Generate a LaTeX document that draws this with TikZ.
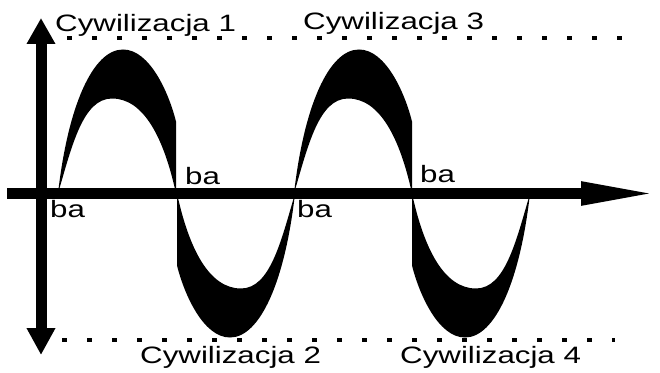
\documentclass[tikz,border=0pt]{standalone}
\usepackage{fontspec}
\usetikzlibrary{positioning, arrows.meta}
\newfontfamily\wide[FakeStretch=1.32]{Liberation Sans}

\begin{document}
\begin{tikzpicture}[
  x=1pt, y=1pt,
  axis/.style={line width=11pt},
  guide/.style={line width=4.5pt, dash pattern=on 4.5pt off 20.5pt},
  wave/.style={fill=black},
  lab/.style={font=\wide\fontsize{23.7}{26}\selectfont, inner sep=0pt, anchor=base west}
]
\useasboundingbox (0,0) rectangle (660,372);

% dotted limits
\coordinate (topl) at (67,334);
\coordinate (topr) at (622,334);
\coordinate (botl) at (62,32);
\coordinate (botr) at (615,32);
\draw[guide] (topl) -- (topr);
\draw[guide] (botl) -- (botr);

% crescents
\foreach \xs/\rot in {58/0, 294/0, 295/180, 530/180}
  \fill[wave, shift={(\xs,178.5)}, rotate=\rot]
    (0,0) .. controls (10,88) and (35,144) .. (65,144)
    .. controls (92,144) and (111,100) .. (118,72) -- (118,0)
    .. controls (106,55) and (86,95) .. (54,95)
    .. controls (25,95) and (14,48) .. (0,0) -- cycle;

% axes
\coordinate (xs) at (7,178.5);
\coordinate (xe) at (660,178.5);
\coordinate (ys) at (41,17);
\coordinate (ye) at (41,354);
\draw[axis, -{Triangle[length=79pt, width=21pt]}] (xs) -- (xe);
\draw[axis, {Triangle[length=27pt, width=27pt]}-{Triangle[length=26pt, width=27pt]}] (ys) -- (ye);

% labels
\node[lab] (c1) at (55,340) {Cywilizacja 1};
\node[lab] (c3) at (303,342) {Cywilizacja 3};
\node[lab] (c2) at (140,9) {Cywilizacja 2};
\node[lab] (c4) at (400,9) {Cywilizacja 4};
\node[lab] (ba1) at (50,154) {ba};
\node[lab] (ba2) at (185,187) {ba};
\node[lab] (ba3) at (297,154) {ba};
\node[lab] (ba4) at (420,189) {ba};
\end{tikzpicture}
\end{document}
